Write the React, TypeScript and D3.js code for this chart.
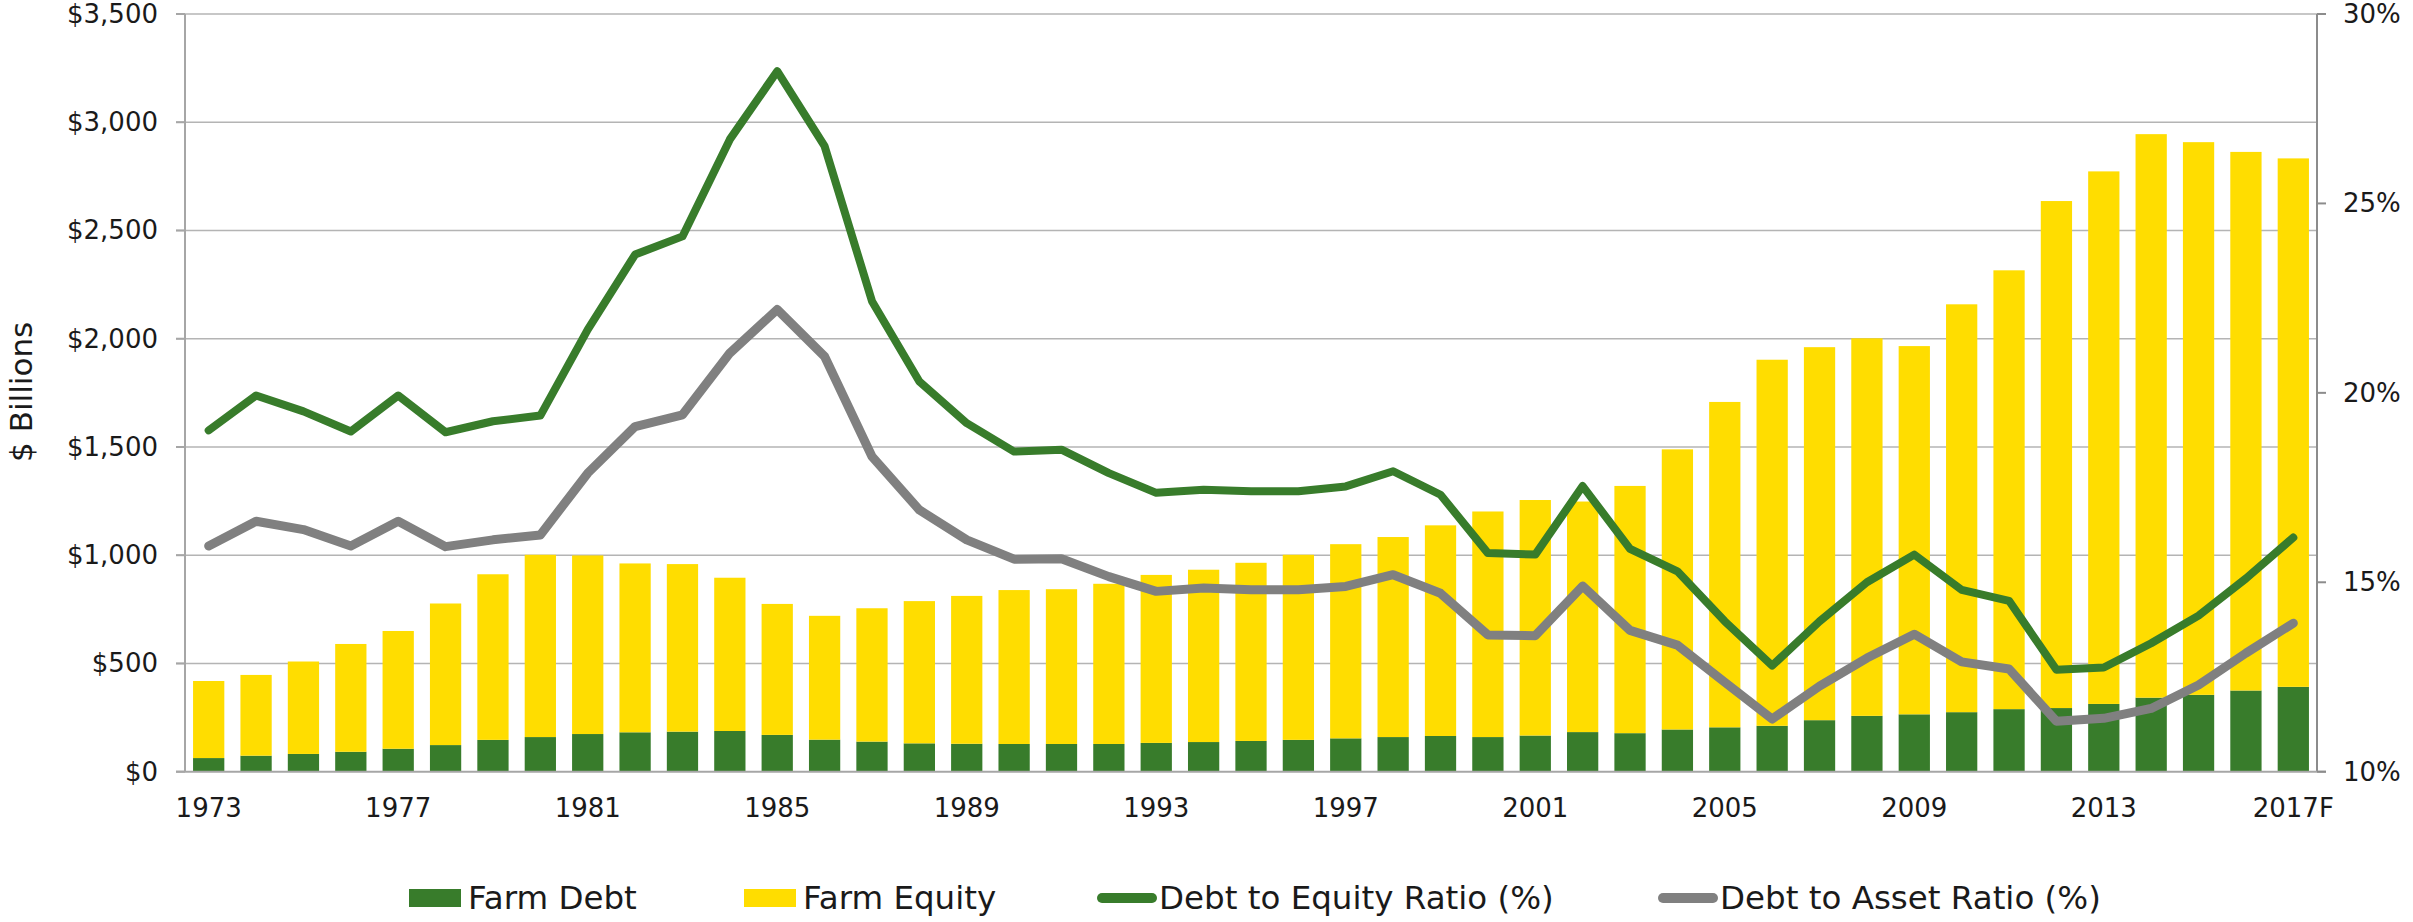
import React from "react";
import * as d3 from "d3";

const years = [
  "1973","1974","1975","1976","1977","1978","1979","1980","1981","1982",
  "1983","1984","1985","1986","1987","1988","1989","1990","1991","1992",
  "1993","1994","1995","1996","1997","1998","1999","2000","2001","2002",
  "2003","2004","2005","2006","2007","2008","2009","2010","2011","2012",
  "2013","2014","2015","2016","2017F",
];

const farmDebt = [
  63, 74, 82, 92, 106, 123, 147, 160, 174, 182,
  185, 188, 170, 148, 139, 131, 129, 128, 128, 128,
  133, 137, 142, 147, 154, 160, 165, 160, 167, 183,
  178, 195, 205, 212, 238, 258, 265, 275, 289, 294,
  313, 342, 355, 375, 392,
];

const farmEquity = [
  356, 373, 427, 498, 544, 654, 765, 842, 825, 780,
  774, 708, 605, 572, 616, 657, 683, 711, 715, 740,
  776, 796, 823, 855, 897, 924, 973, 1042, 1088, 1065,
  1142, 1294, 1503, 1691, 1723, 1744, 1701, 1884, 2027, 2342,
  2460, 2603, 2553, 2488, 2441,
];

const debtToEquity = [
  19.01, 19.93, 19.51, 18.98, 19.93, 18.96, 19.25, 19.4, 21.67, 23.65,
  24.13, 26.69, 28.49, 26.51, 22.42, 20.3, 19.2, 18.45, 18.5, 17.88,
  17.36, 17.44, 17.4, 17.4, 17.53, 17.93, 17.31, 15.77, 15.73, 17.54,
  15.88, 15.29, 13.97, 12.8, 13.97, 15.0, 15.73, 14.8, 14.51, 12.69,
  12.75, 13.39, 14.12, 15.1, 16.18,
];

const debtToAsset = [
  15.96, 16.61, 16.39, 15.96, 16.61, 15.94, 16.12, 16.25, 17.88, 19.11,
  19.42, 21.05, 22.2, 20.96, 18.32, 16.91, 16.12, 15.61, 15.62, 15.15,
  14.76, 14.85, 14.8, 14.8, 14.89, 15.2, 14.71, 13.61, 13.59, 14.9,
  13.73, 13.34, 12.36, 11.39, 12.26, 13.0, 13.63, 12.9, 12.71, 11.33,
  11.41, 11.67, 12.29, 13.13, 13.92,
];

const leftTicks = [0, 500, 1000, 1500, 2000, 2500, 3000, 3500];
const rightTicks = [10, 15, 20, 25, 30];
const xLabelYears = ["1973","1977","1981","1985","1989","1993","1997","2001","2005","2009","2013","2017F"];

const legendItems = [
  { label: "Farm Debt", kind: "rect", key: "debt" },
  { label: "Farm Equity", kind: "rect", key: "equity" },
  { label: "Debt to Equity Ratio (%)", kind: "line", key: "de" },
  { label: "Debt to Asset Ratio (%)", kind: "line", key: "da" },
];

const COLORS: Record<string, string> = {
  debt: "#387C2B",
  equity: "#FFDD00",
  de: "#387C2B",
  da: "#808080",
};

const W = 2413;
const H = 922;
const L = 185;
const R = 2317;
const T = 14;
const B = 771.7;
const FONT = "'DejaVu Sans', Verdana, sans-serif";

export default function App() {
  const x = d3.scaleBand<string>().domain(years).range([L, R]).paddingInner(0.34).paddingOuter(0.17);
  const yL = d3.scaleLinear().domain([0, 3500]).range([B, T]);
  const yR = d3.scaleLinear().domain([10, 30]).range([B, T]);
  const cx = (yr: string) => (x(yr) as number) + x.bandwidth() / 2;

  const lineDE = d3.line<number>().x((_, i) => cx(years[i])).y((d) => yR(d));
  const lineDA = d3.line<number>().x((_, i) => cx(years[i])).y((d) => yR(d));

  const legendX = [409, 744, 1097, 1658];
  const legendY = 898;

  return (
    <>
      <style>{`body{margin:0;}`}</style>
      <svg width={W} height={H} style={{ display: "block", background: "#fff" }} fontFamily={FONT}>
        {/* gridlines */}
        {leftTicks.filter((t) => t > 0).map((t) => (
          <line key={"g" + t} x1={176} x2={R} y1={yL(t)} y2={yL(t)} stroke="#b4b4b4" strokeWidth={1.6} />
        ))}
        {/* bars */}
        {years.map((yr, i) => (
          <g key={"b" + yr}>
            <rect x={x(yr)} width={x.bandwidth()} y={yL(farmDebt[i])} height={yL(0) - yL(farmDebt[i])} fill={COLORS.debt} />
            <rect
              x={x(yr)}
              width={x.bandwidth()}
              y={yL(farmDebt[i] + farmEquity[i])}
              height={yL(farmDebt[i]) - yL(farmDebt[i] + farmEquity[i])}
              fill={COLORS.equity}
            />
          </g>
        ))}
        {/* axes */}
        <line x1={L} x2={L} y1={T} y2={B} stroke="#a6a6a6" strokeWidth={2} />
        <line x1={R} x2={R} y1={T} y2={B} stroke="#8c8c8c" strokeWidth={2} />
        <line x1={176} x2={2326} y1={B} y2={B} stroke="#a6a6a6" strokeWidth={2} />
        {leftTicks.map((t) => (
          <g key={"lt" + t}>
            <line x1={176} x2={L} y1={yL(t)} y2={yL(t)} stroke="#a6a6a6" strokeWidth={2} />
            <text x={158} y={yL(t)} textAnchor="end" dominantBaseline="central" fontSize={26} fill="#1a1a1a">
              {d3.format("$,")(t)}
            </text>
          </g>
        ))}
        {rightTicks.map((t) => (
          <g key={"rt" + t}>
            <line x1={R} x2={2326} y1={yR(t)} y2={yR(t)} stroke="#8c8c8c" strokeWidth={2} />
            <text x={2343} y={yR(t)} textAnchor="start" dominantBaseline="central" fontSize={26} fill="#1a1a1a">
              {t + "%"}
            </text>
          </g>
        ))}
        {xLabelYears.map((yr) => (
          <text key={"xl" + yr} x={cx(yr)} y={817} textAnchor="middle" fontSize={26} fill="#1a1a1a">
            {yr}
          </text>
        ))}
        <text
          transform={`translate(21,${(T + B) / 2 - 1}) rotate(-90)`}
          textAnchor="middle"
          dominantBaseline="central"
          fontSize={31}
          fill="#1a1a1a"
        >
          $ Billions
        </text>
        {/* lines */}
        <path d={lineDE(debtToEquity) || ""} fill="none" stroke={COLORS.de} strokeWidth={8} strokeLinejoin="round" strokeLinecap="round" />
        <path d={lineDA(debtToAsset) || ""} fill="none" stroke={COLORS.da} strokeWidth={9} strokeLinejoin="round" strokeLinecap="round" />
        {/* legend */}
        {legendItems.map((it, i) => {
          const lx = legendX[i];
          return (
            <g key={"lg" + it.key}>
              {it.kind === "rect" ? (
                <rect x={lx} y={legendY - 9} width={52} height={18} fill={COLORS[it.key]} />
              ) : (
                <line x1={lx + 5} x2={lx + 55} y1={legendY} y2={legendY} stroke={COLORS[it.key]} strokeWidth={10} strokeLinecap="round" />
              )}
              <text x={lx + (it.kind === "rect" ? 59 : 62)} y={legendY} dominantBaseline="central" fontSize={32.5} fill="#1a1a1a">
                {it.label}
              </text>
            </g>
          );
        })}
      </svg>
    </>
  );
}
